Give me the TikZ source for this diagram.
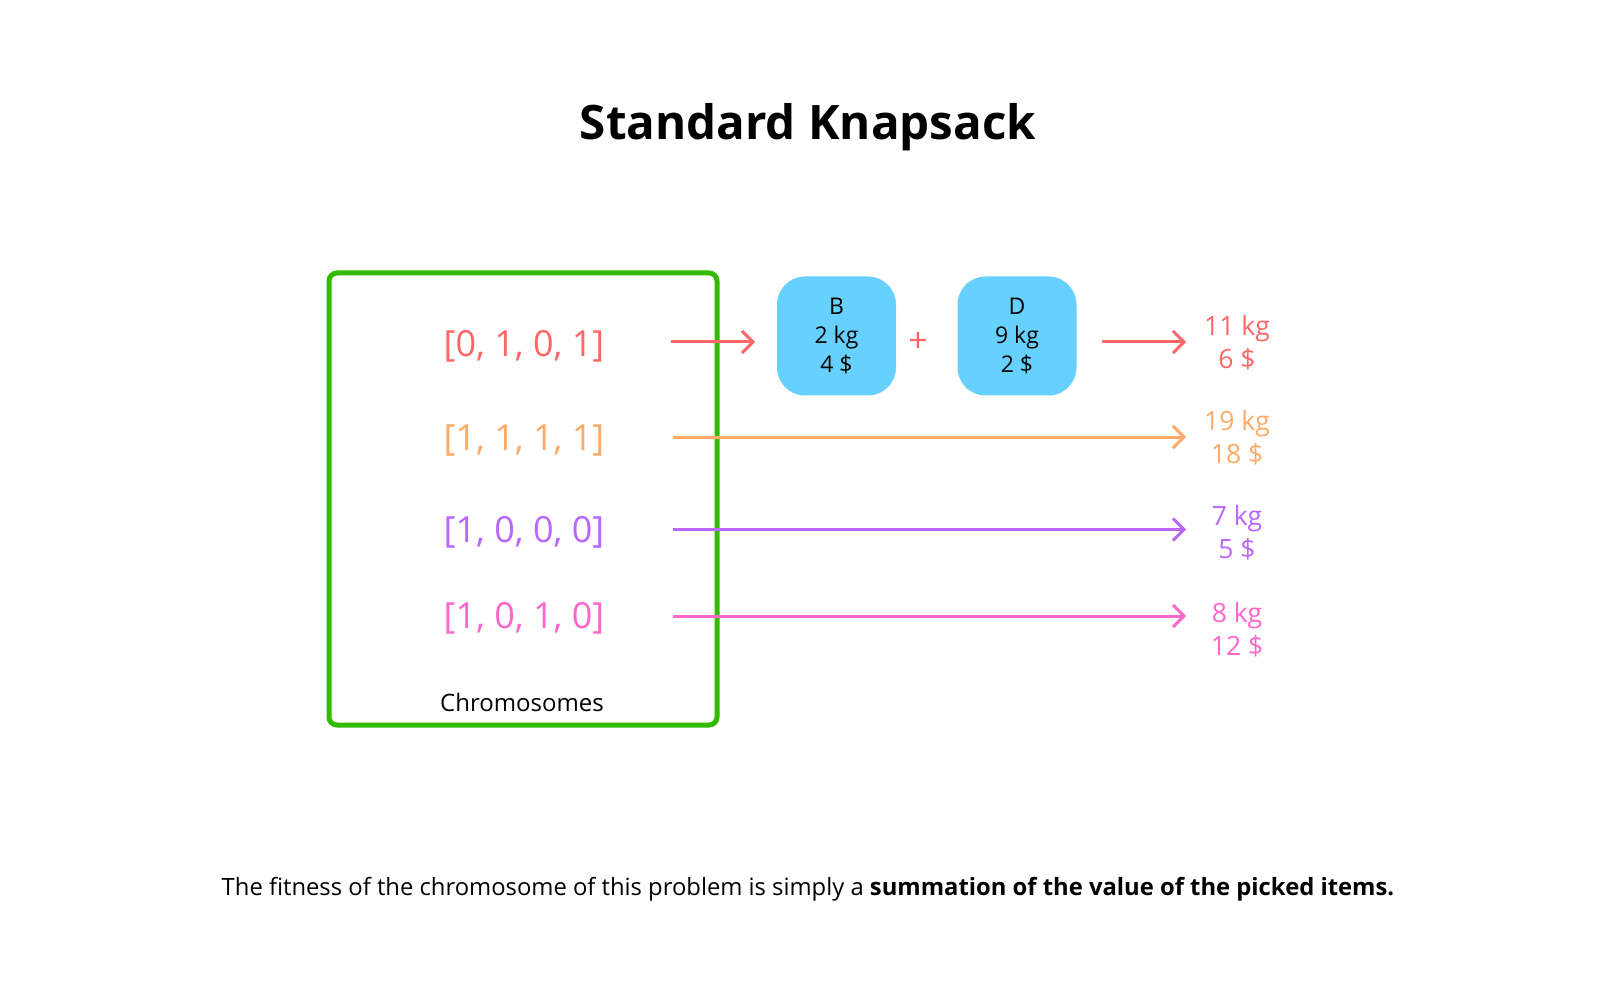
\documentclass[tikz,border=0pt]{standalone}
\usepackage{fontspec}
\setmainfont{Open Sans}
\usetikzlibrary{arrows.meta}
\definecolor{cred}{HTML}{FF6666}
\definecolor{corange}{HTML}{FFAA66}
\definecolor{cpurple}{HTML}{BB66FF}
\definecolor{cpink}{HTML}{FF66CC}
\definecolor{cgreen}{HTML}{33BB00}
\definecolor{cblue}{HTML}{66D1FF}
\tikzset{
  chromo/.style={inner sep=0pt, font=\fontsize{36}{43}\selectfont},
  item/.style={fill=cblue, rounded corners=28pt, minimum width=119pt, minimum height=119pt, inner sep=0pt, align=center, font=\fontsize{23}{29}\selectfont},
  result/.style={inner sep=0pt, align=center, font=\fontsize{26.5}{33}\selectfont},
  arr/.style={line width=3pt, -{Straight Barb[length=11pt,width=22pt,line width=3pt]}},
}
\begin{document}
\begin{tikzpicture}[x=1pt,y=-1pt]
\useasboundingbox (0,0) rectangle (1618,1000);
\node[inner sep=0pt, font=\fontsize{47.5}{57}\selectfont\bfseries] (title) at (808,127) {Standard Knapsack};
\draw[cgreen, line width=5pt, rounded corners=8pt] (329,273) rectangle (717,725);
\node[chromo, text=cred] (c1) at (524,346.5) {[0, 1, 0, 1]};
\node[chromo, text=corange] (c2) at (524,440) {[1, 1, 1, 1]};
\node[chromo, text=cpurple] (c3) at (524,532.5) {[1, 0, 0, 0]};
\node[chromo, text=cpink] (c4) at (524,618.5) {[1, 0, 1, 0]};
\node[inner sep=0pt, font=\fontsize{24}{28}\selectfont] (lab) at (522,702) {Chromosomes};
\node[item] (bB) at (836.5,336) {B\\2 kg\\4 \$};
\node[item] (bD) at (1017,336) {D\\9 kg\\2 \$};
\node[inner sep=0pt, text=cred, font=\fontsize{34}{36}\selectfont] (plus) at (918,342) {+};
\node[result, text=cred] (r1) at (1237,343) {11 kg\\6 \$};
\node[result, text=corange] (r2) at (1237,438) {19 kg\\18 \$};
\node[result, text=cpurple] (r3) at (1237,532.5) {7 kg\\5 \$};
\node[result, text=cpink] (r4) at (1237,629.5) {8 kg\\12 \$};
\coordinate (s1) at (671,342); \coordinate (e1) at (755,342);
\coordinate (s1b) at (1102,342); \coordinate (e1b) at (1186,342);
\coordinate (s2) at (673,437); \coordinate (e2) at (1186,437);
\coordinate (s3) at (673,529.5); \coordinate (e3) at (1186,529.5);
\coordinate (s4) at (673,616); \coordinate (e4) at (1186,616);
\draw[arr, cred] (s1) -- (e1);
\draw[arr, cred] (s1b) -- (e1b);
\draw[arr, corange] (s2) -- (e2);
\draw[arr, cpurple] (s3) -- (e3);
\draw[arr, cpink] (s4) -- (e4);
\node[inner sep=0pt, font=\fontsize{23.8}{28}\selectfont] (foot) at (808,889) {The fitness of the chromosome of this problem is simply a \textbf{summation of the value of the picked items.}};
\end{tikzpicture}
\end{document}
